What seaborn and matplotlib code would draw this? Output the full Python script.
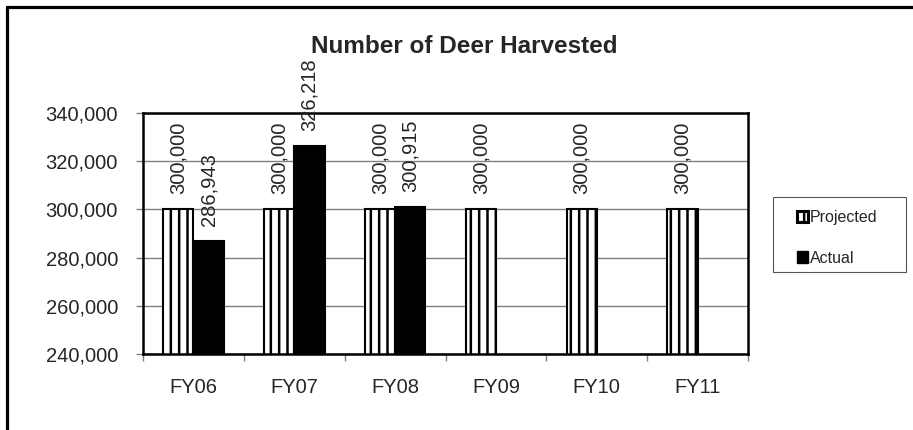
import matplotlib
matplotlib.use("Agg")
import matplotlib.pyplot as plt
import matplotlib.ticker as mticker
from matplotlib.lines import Line2D
from matplotlib.patches import Rectangle
import seaborn as sns
import pandas as pd

# data
years = ["FY06", "FY07", "FY08", "FY09", "FY10", "FY11"]
projected = [300000, 300000, 300000, 300000, 300000, 300000]
actual = [286943, 326218, 300915, None, None, None]

df = pd.DataFrame({
    "year": years * 2,
    "series": ["Projected"] * len(years) + ["Actual"] * len(years),
    "value": projected + actual,
}).dropna()

sns.set_style("white")
plt.rcParams["font.family"] = ["Liberation Sans", "DejaVu Sans"]
plt.rcParams["hatch.linewidth"] = 1.8

fig = plt.figure(figsize=(9.13, 4.30), dpi=100)
ax = fig.add_axes([143 / 913, 1 - 354 / 430, (748 - 143) / 913, (354 - 113) / 430])

sns.barplot(data=df, x="year", y="value", hue="series", order=years,
            hue_order=["Projected", "Actual"],
            palette={"Projected": "white", "Actual": "black"},
            width=0.6, edgecolor="black", linewidth=1.5, ax=ax, legend=False)

for bar in ax.containers[0]:
    bar.set_hatch("||")

for cont in ax.containers:
    ax.bar_label(cont, fmt="{:,.0f}", rotation=90, padding=11, fontsize=14.5)

ax.set_ylim(240000, 340000)
ax.set_xlim(-0.5, len(years) - 0.5)
ax.yaxis.set_major_locator(mticker.MultipleLocator(20000))
ax.yaxis.set_major_formatter(mticker.FuncFormatter(lambda v, p: f"{v:,.0f}"))
ax.grid(axis="y", color="#808080", linewidth=1)
ax.set_axisbelow(True)
ax.set_xlabel("")
ax.set_ylabel("")

ax.xaxis.set_minor_locator(mticker.FixedLocator([i - 0.5 for i in range(len(years) + 1)]))
ax.tick_params(axis="x", which="major", length=0, pad=17, labelsize=14.5)
ax.tick_params(axis="x", which="minor", length=5, color="#808080", width=1, direction="out", bottom=True)
ax.tick_params(axis="y", length=5, color="#808080", width=1, direction="out", pad=13, labelsize=14.5, left=True)

for s in ax.spines.values():
    s.set_color("black")
    s.set_linewidth(1.8)

# legend box drawn separately, entries placed inside it
fig.add_artist(Rectangle((773 / 913, 1 - 272 / 430), 133 / 913, 75 / 430,
                         transform=fig.transFigure, facecolor="white",
                         edgecolor="#555555", linewidth=0.8))
handles = [
    plt.Rectangle((0, 0), 1, 1, facecolor="white", edgecolor="black", hatch="||", linewidth=2.2),
    plt.Rectangle((0, 0), 1, 1, facecolor="black", edgecolor="black"),
]
leg = fig.legend(handles, ["Projected", "Actual"], loc="upper left",
                 bbox_to_anchor=(797 / 913, 1 - 210 / 430), fontsize=11.5,
                 handlelength=0.7, handleheight=0.7, handletextpad=0.1,
                 labelspacing=1.6, borderpad=0, borderaxespad=0,
                 frameon=False)

# title
fig.text(464.5 / 913, 1 - 53 / 430, "Number of Deer Harvested", ha="center",
         va="baseline", fontsize=17.5, fontweight="bold")

# chart area border (only left and top visible)
fig.add_artist(Line2D([7 / 913, 7 / 913], [0, 1 - 7 / 430], color="black", linewidth=2.3))
fig.add_artist(Line2D([7 / 913, 1], [1 - 7 / 430, 1 - 7 / 430], color="black", linewidth=2.3))

fig.savefig("out.png", dpi=100)
